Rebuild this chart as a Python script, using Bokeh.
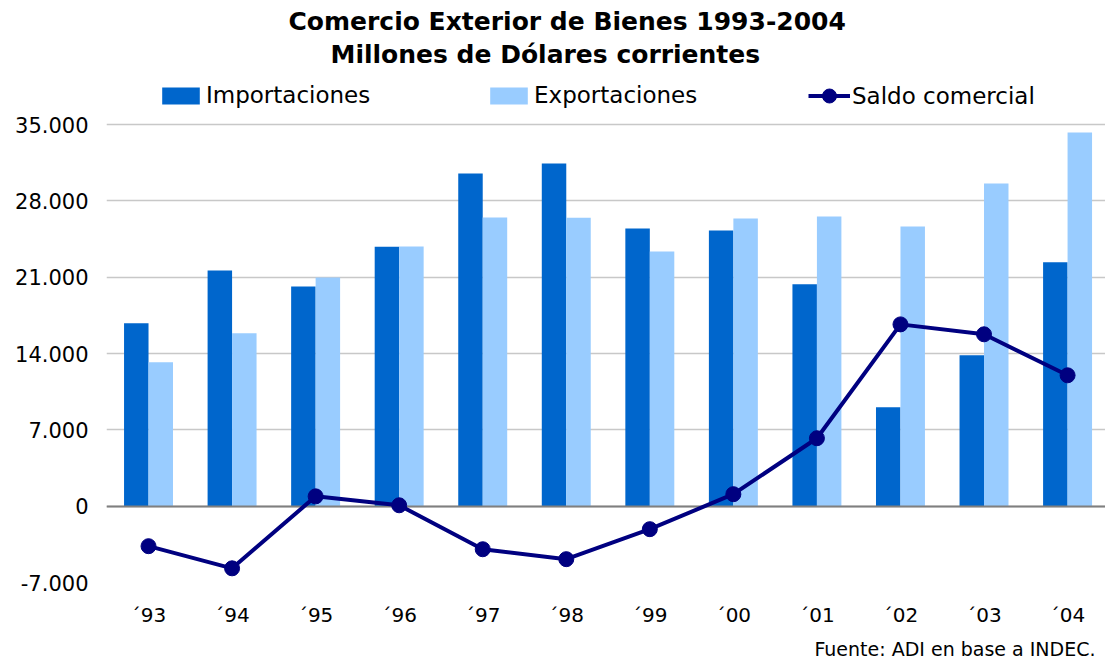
from bokeh.plotting import figure
from bokeh.models import ColumnDataSource, Range1d, FixedTicker, Legend, LegendItem, Title
from bokeh.transform import dodge
from bokeh.embed import file_html
from bokeh.resources import INLINE

# ---- data ----
years = ["´93", "´94", "´95", "´96", "´97", "´98", "´99", "´00", "´01", "´02", "´03", "´04"]
importaciones = [16780, 21620, 20150, 23800, 30500, 31430, 25470, 25290, 20340, 9070, 13840, 22360]
exportaciones = [13190, 15850, 20980, 23810, 26480, 26440, 23360, 26390, 26570, 25650, 29590, 34270]
saldo = [-3670, -5700, 900, 80, -3950, -4860, -2110, 1100, 6230, 16670, 15760, 12000]
ytick_values = [-7000, 0, 7000, 14000, 21000, 28000, 35000]
ytick_labels = ["-7.000", "0", "7.000", "14.000", "21.000", "28.000", "35.000"]
series_names = ["Importaciones", "Exportaciones", "Saldo comercial"]
title_lines = ["Comercio Exterior de Bienes 1993-2004", "Millones de Dólares corrientes"]
source_note = "Fuente: ADI en base a INDEC."

C_IMP = "#0066CC"
C_EXP = "#99CCFF"
C_SAL = "#000080"
FONT = "DejaVu Sans"

x = list(range(len(years)))
src = ColumnDataSource(dict(x=x, imp=importaciones, exp=exportaciones, saldo=saldo))

# frame spans y=70..582 px; top headroom holds the legend row
p = figure(width=1105, height=666,
           x_range=Range1d(-0.503, 11.454), y_range=Range1d(-7000, 39952),
           output_backend="svg", toolbar_location=None,
           min_border_left=106, min_border_right=0, min_border_top=70, min_border_bottom=84,
           outline_line_color=None, background_fill_color="white", border_fill_color="white")

bw = 0.293
r_imp = p.vbar(x=dodge("x", -bw / 2), top="imp", bottom=0, width=bw, source=src,
               fill_color=C_IMP, line_color=None)
r_exp = p.vbar(x=dodge("x", bw / 2), top="exp", bottom=0, width=bw, source=src,
               fill_color=C_EXP, line_color=None)
p.hspan(y=[0], line_color="#7f7f7f", line_width=2)
r_line = p.line("x", "saldo", source=src, line_color=C_SAL, line_width=4)
r_pts = p.scatter("x", "saldo", source=src, size=15, fill_color=C_SAL, line_color=C_SAL)

# axes
for ax in (p.xaxis[0], p.yaxis[0]):
    ax.axis_line_color = None
    ax.major_tick_line_color = None
    ax.minor_tick_line_color = None
    ax.major_tick_out = 0
    ax.major_label_text_font = FONT
    ax.major_label_text_color = "#000000"

p.xaxis.ticker = FixedTicker(ticks=x)
p.xaxis.major_label_overrides = {i: lbl for i, lbl in enumerate(years)}
p.xaxis.major_label_text_font_size = "20px"
p.xaxis.major_label_standoff = 20

p.yaxis.ticker = FixedTicker(ticks=ytick_values)
p.yaxis.major_label_overrides = dict(zip(ytick_values, ytick_labels))
p.yaxis.major_label_text_font_size = "21px"
p.yaxis.major_label_standoff = 18

p.xgrid.visible = False
p.ygrid.grid_line_color = "#c8c8c8"
p.ygrid.grid_line_width = 1.5

# legends: one per entry, placed in the headroom of the frame
def make_legend(label, renderers, loc, gw, gh):
    return Legend(items=[LegendItem(label=label, renderers=renderers)], location=loc,
                  orientation="horizontal", padding=0, margin=0, spacing=0,
                  border_line_color=None, background_fill_alpha=0,
                  glyph_width=gw, glyph_height=gh, label_standoff=2, label_height=26,
                  label_text_font=FONT, label_text_font_size="23px",
                  label_text_color="#000000")

p.add_layout(make_legend(series_names[0], [r_imp], (51, 474), 47, 21), "center")
p.add_layout(make_legend(series_names[1], [r_exp], (379, 474), 47, 21), "center")
p.add_layout(make_legend(series_names[2], [r_line, r_pts], (702, 469), 42, 35), "center")

# titles
p.add_layout(Title(text=title_lines[1], align="left", offset=224, standoff=4,
                   text_font=FONT, text_font_style="bold", text_font_size="25px",
                   text_color="#000000"), "above")
p.add_layout(Title(text=title_lines[0], align="left", offset=182, standoff=0,
                   text_font=FONT, text_font_style="bold", text_font_size="25px",
                   text_color="#000000"), "above")

# source note below the axis
p.add_layout(Title(text=source_note, align="right", offset=10, standoff=12,
                   text_font=FONT, text_font_style="normal", text_font_size="19px",
                   text_color="#000000"), "below")

open("out.html", "w").write(file_html(p, INLINE))
